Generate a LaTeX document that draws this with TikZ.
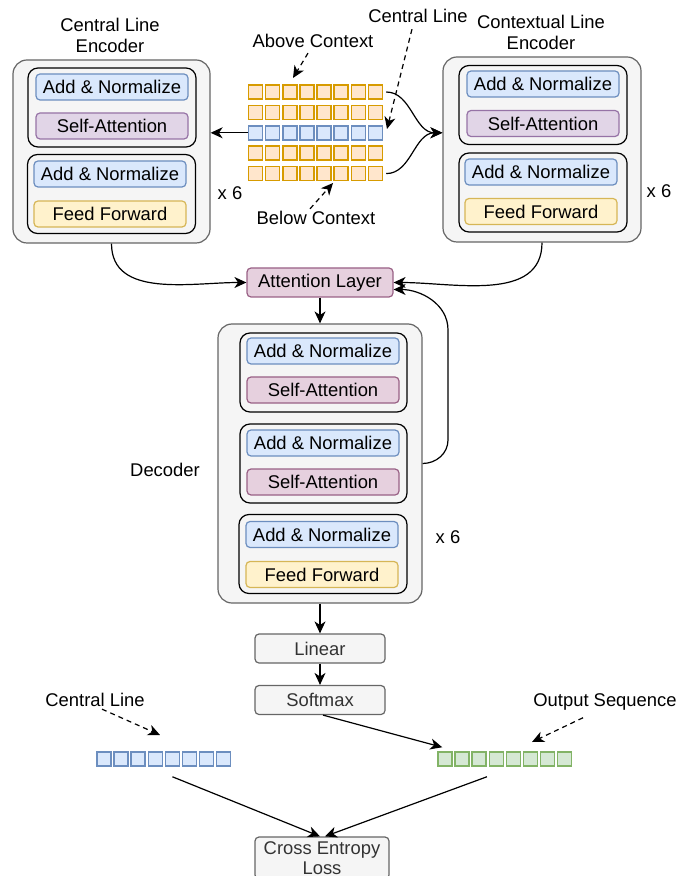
\documentclass[tikz,border=0pt]{standalone}
\usepackage{fontspec}
\setmainfont{Liberation Sans}
\usepackage{xcolor}
\usepackage{tikz}
\usetikzlibrary{positioning}
\usetikzlibrary{arrows.meta}
\pgfdeclarelayer{nodelayer}
\pgfdeclarelayer{edgelayer}
\pgfsetlayers{nodelayer,edgelayer,main}
\definecolor{grayfill}{HTML}{F5F5F5}
\definecolor{grayline}{HTML}{666666}
\definecolor{graytext}{HTML}{333333}
\definecolor{bluefill}{HTML}{DAE8FC}
\definecolor{blueline}{HTML}{6C8EBF}
\definecolor{purplefill}{HTML}{E1D5E7}
\definecolor{purpleline}{HTML}{9673A6}
\definecolor{pinkfill}{HTML}{E6D0DE}
\definecolor{pinkline}{HTML}{996185}
\definecolor{yellowfill}{HTML}{FFF2CC}
\definecolor{yellowline}{HTML}{D6B656}
\definecolor{orangefill}{HTML}{FFE6CC}
\definecolor{orangeline}{HTML}{D79B00}
\definecolor{greenfill}{HTML}{D5E8D4}
\definecolor{greenline}{HTML}{82B366}
\tikzset{
    none/.style = {inner sep=0pt},
    outerbox/.style = {draw=grayline, fill=grayfill, rounded corners=7pt, line width=0.6pt},
    block/.style = {draw=black, rounded corners=5pt, line width=0.6pt, minimum width=84pt, minimum height=39.5pt},
    smallbox/.style = {rounded corners=2pt, line width=0.6pt, minimum width=76pt, minimum height=13pt, inner sep=0pt},
    addnorm/.style = {smallbox, draw=blueline, fill=bluefill},
    selfatt/.style = {smallbox, draw=purpleline, fill=purplefill},
    dselfatt/.style = {smallbox, draw=pinkline, fill=pinkfill},
    feedfwd/.style = {smallbox, draw=yellowline, fill=yellowfill},
    graybox/.style = {smallbox, draw=grayline, fill=grayfill, text=graytext, minimum width=65pt, minimum height=14.5pt},
    ctxcell/.style = {draw=orangeline, fill=orangefill, line width=0.75pt, minimum size=7pt, inner sep=0pt},
    linecell/.style = {draw=blueline, fill=bluefill, line width=0.75pt, minimum size=7pt, inner sep=0pt},
    outcell/.style = {draw=greenline, fill=greenfill, line width=0.75pt, minimum size=7pt, inner sep=0pt},
    arrow/.style = {-{Stealth[length=6pt,width=5.5pt,inset=1.8pt]}, line width=0.6pt},
    dasharrow/.style = {arrow, dash pattern=on 2.5pt off 2pt}
}

\begin{document}
\begin{tikzpicture}[x=0.5pt, y=0.5pt, font=\fontsize{9.2}{10.5}\selectfont]
  \useasboundingbox (0, 0) rectangle (690, -876);
  \begin{pgfonlayer}{nodelayer}
    % central line encoder
    \node [style=outerbox, minimum width=98.5pt, minimum height=91.5pt] (cenc) at (111.5, -151.5) {};
    \node [style=block] (cblk1) at (112, -107.5) {};
    \node [style=addnorm] (cadd1) at (112, -87) {Add \& Normalize};
    \node [style=selfatt] (catt) at (112, -126) {Self-Attention};
    \node [style=block] (cblk2) at (111.5, -194) {};
    \node [style=addnorm] (cadd2) at (110, -174) {Add \& Normalize};
    \node [style=feedfwd] (cff) at (110, -214) {Feed Forward};
    \node [style=none, align=center] (cenclbl) at (110, -35.5) {Central Line\\Encoder};
    \node [style=none] (csix) at (230, -193) {x 6};
    % contextual line encoder
    \node [style=outerbox, minimum width=99pt, minimum height=92.5pt] (xenc) at (542, -149.5) {};
    \node [style=block] (xblk1) at (543, -105) {};
    \node [style=addnorm] (xadd1) at (543, -84) {Add \& Normalize};
    \node [style=selfatt] (xatt) at (543, -123.5) {Self-Attention};
    \node [style=block] (xblk2) at (543, -192.5) {};
    \node [style=addnorm] (xadd2) at (541, -172) {Add \& Normalize};
    \node [style=feedfwd] (xff) at (541, -211.5) {Feed Forward};
    \node [style=none, align=center] (xenclbl) at (541, -32.5) {Contextual Line\\Encoder};
    \node [style=none] (xsix) at (659, -191) {x 6};
    % context window
    \foreach \r in {0, 1, 3, 4} {
      \foreach \c in {0, ..., 7} {
        \node [style=ctxcell] (g-\r-\c) at ({255.5 + 17.14*\c}, {-92 - 20.4*\r}) {};
      }
    }
    \foreach \c in {0, ..., 7} {
      \node [style=linecell] (g-2-\c) at ({255.5 + 17.14*\c}, -132.8) {};
    }
    \node [style=none] (abovelbl) at (313, -41) {Above Context};
    \node [style=none] (ctrlbl) at (418, -16) {Central Line};
    \node [style=none] (belowlbl) at (316, -218) {Below Context};
    % decoder
    \node [style=dselfatt, minimum width=73pt, minimum height=14.5pt] (attn) at (320, -282.5) {Attention Layer};
    \node [style=outerbox, minimum width=102pt, minimum height=139.5pt] (dec) at (320, -463.5) {};
    \node [style=block, minimum width=83.5pt] (dblk1) at (323.5, -372.5) {};
    \node [style=addnorm] (dadd1) at (323, -351) {Add \& Normalize};
    \node [style=dselfatt] (datt1) at (323, -390) {Self-Attention};
    \node [style=block, minimum width=83.5pt] (dblk2) at (323.5, -463.5) {};
    \node [style=addnorm] (dadd2) at (323, -443) {Add \& Normalize};
    \node [style=dselfatt] (datt2) at (323, -482) {Self-Attention};
    \node [style=block, minimum width=84pt] (dblk3) at (323, -554) {};
    \node [style=addnorm] (dadd3) at (322, -534.5) {Add \& Normalize};
    \node [style=feedfwd] (dff) at (322, -574.5) {Feed Forward};
    \node [style=none] (declbl) at (165, -470) {Decoder};
    \node [style=none] (dsix) at (448, -537) {x 6};
    \node [style=graybox] (linear) at (320, -648.5) {Linear};
    \node [style=graybox] (softmax) at (320, -700) {Softmax};
    % output and loss
    \foreach \c in {0, ..., 7} {
      \node [style=linecell] (cl-\c) at ({104 + 17.1*\c}, -759) {};
      \node [style=outcell] (os-\c) at ({445 + 17.1*\c}, -759) {};
    }
    \node [style=none] (clbl) at (95, -700) {Central Line};
    \node [style=none] (outlbl) at (605, -702) {Output Sequence};
    \node [style=graybox, minimum width=67pt, minimum height=21pt, align=center, font=\fontsize{9.2}{10}\selectfont] (loss) at (322, -858) {Cross Entropy\\Loss};
    \coordinate (abovetip) at (293, -78);
    \coordinate (ctrtip) at (387, -129);
    \coordinate (belowtip) at (333, -183);
    \coordinate (cltip) at (160, -735);
    \coordinate (ostip) at (532, -742);
    \coordinate (fbdown) at (448, -440);
    \coordinate (fbup) at (448, -330);
  \end{pgfonlayer}
  \begin{pgfonlayer}{edgelayer}
    \draw [style=dasharrow] ([xshift=-2.5pt, yshift=-2.5pt]abovelbl.south) -- (abovetip);
    \draw [style=dasharrow] ([xshift=-3pt, yshift=-3pt]ctrlbl.south) -- (ctrtip);
    \draw [style=dasharrow] ([xshift=-3pt, yshift=1pt]belowlbl.north) -- (belowtip);
    \draw [style=arrow] (g-2-0.west) -- (g-2-0.west -| cenc.east);
    \draw [style=arrow, shorten <=1.5pt] (g-0-7.east) to [out=0, in=180] (g-2-7 -| xenc.west);
    \draw [style=arrow, shorten <=1.5pt] (g-4-7.east) to [out=0, in=180] (g-2-7 -| xenc.west);
    \draw [style=arrow] (cenc.south) to [out=-90, in=180] (attn.west);
    \draw [style=arrow] (xenc.south) to [out=-90, in=0] (attn.east);
    \draw [style=arrow] (dec.east) to [out=0, in=-90] (fbdown) -- (fbup) to [out=90, in=0] ([yshift=-3.5pt]attn.east);
    \draw [style=arrow] (attn) -- (dec);
    \draw [style=arrow] (dec) -- (linear);
    \draw [style=arrow] (linear) -- (softmax);
    \draw [style=arrow] ([xshift=1.5pt]softmax.south) -- ([xshift=2.5pt, yshift=2pt]os-0.north west);
    \draw [style=dasharrow] ([xshift=3.5pt, yshift=-1pt]clbl.south) -- (cltip);
    \draw [style=dasharrow] ([xshift=-11pt, yshift=-3.5pt]outlbl.south) -- (ostip);
    \draw [style=arrow] ([yshift=-5pt]cl-4.south) -- ([xshift=-1pt]loss.north);
    \draw [style=arrow] ([yshift=-5pt]os-2.south east) -- ([xshift=1.5pt]loss.north);
  \end{pgfonlayer}
\end{tikzpicture}
\end{document}
